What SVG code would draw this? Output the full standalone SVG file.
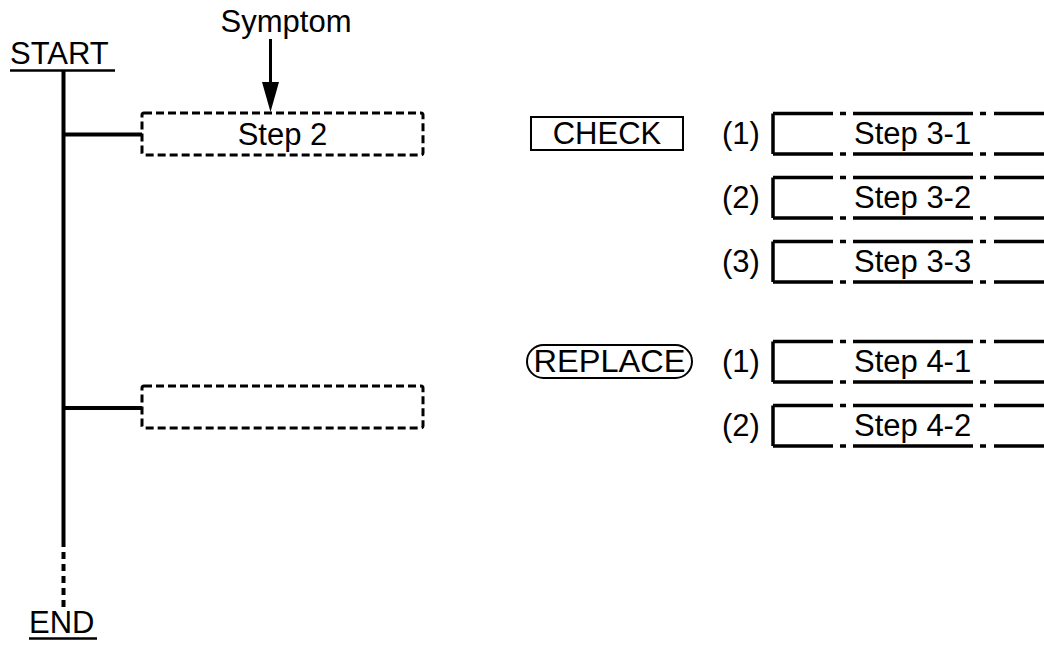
<svg xmlns="http://www.w3.org/2000/svg" width="1044" height="645" viewBox="0 0 1044 645">
<style>
text{font-family:"Liberation Sans",Arial,sans-serif;font-size:31px;fill:#000}
.trunk{stroke:#000;stroke-width:4;fill:none}
.ul{stroke:#000;stroke-width:2.5}
.dbox{fill:none;stroke:#000;stroke-width:3;stroke-dasharray:8 4}
.edge{stroke:#000;stroke-width:3.5;fill:none;stroke-dasharray:60 7 6 7 120 7 6 8 80}
.side{stroke:#000;stroke-width:3.5;fill:none}
.thin{fill:none;stroke:#000;stroke-width:2}
.mid{text-anchor:middle}
</style>
<defs>
<marker id="ah" markerUnits="userSpaceOnUse" markerWidth="31" markerHeight="18" refX="30" refY="8.5" orient="auto" viewBox="0 0 31 17">
<path d="M0,0 L30,8.5 L0,17 Z" fill="#000"/>
</marker>
</defs>
<rect width="1044" height="645" fill="#fff"/>

<g id="start">
<text x="10" y="64">START</text>
<line class="ul" x1="10" y1="70.5" x2="115" y2="70.5"/>
</g>
<g id="end">
<text x="29" y="633">END</text>
<line class="ul" x1="29" y1="638.5" x2="97" y2="638.5"/>
</g>
<g id="symptom">
<text class="mid" x="286" y="32">Symptom</text>
</g>
<g id="step2">
<rect class="dbox" x="142" y="113" width="281" height="42" rx="2"/>
<text class="mid" x="282.5" y="145">Step 2</text>
</g>
<g id="blank-step">
<rect class="dbox" x="142" y="386" width="281" height="42" rx="2"/>
</g>

<g id="check">
<rect class="thin" x="531" y="117" width="152" height="33"/>
<text class="mid" x="607" y="144">CHECK</text>
</g>
<g id="replace">
<rect class="thin" x="527" y="345" width="165" height="33" rx="16.5" ry="16.5" stroke-width="1.5"/>
<text class="mid" x="609.5" y="372" textLength="152" lengthAdjust="spacingAndGlyphs">REPLACE</text>
</g>

<g id="step3-1">
<text x="722" y="144">(1)</text>
<path class="side" d="M773,113.5 V154"/>
<line class="edge" x1="773" y1="113.5" x2="1044" y2="113.5"/>
<line class="edge" x1="773" y1="154" x2="1044" y2="154"/>
<text x="854" y="144">Step 3-1</text>
</g>
<g id="step3-2">
<text x="722" y="208">(2)</text>
<path class="side" d="M773,177.5 V218"/>
<line class="edge" x1="773" y1="177.5" x2="1044" y2="177.5"/>
<line class="edge" x1="773" y1="218" x2="1044" y2="218"/>
<text x="854" y="208">Step 3-2</text>
</g>
<g id="step3-3">
<text x="722" y="272">(3)</text>
<path class="side" d="M773,241.5 V282"/>
<line class="edge" x1="773" y1="241.5" x2="1044" y2="241.5"/>
<line class="edge" x1="773" y1="282" x2="1044" y2="282"/>
<text x="854" y="272">Step 3-3</text>
</g>
<g id="step4-1">
<text x="722" y="372">(1)</text>
<path class="side" d="M773,341.5 V382"/>
<line class="edge" x1="773" y1="341.5" x2="1044" y2="341.5"/>
<line class="edge" x1="773" y1="382" x2="1044" y2="382"/>
<text x="854" y="372">Step 4-1</text>
</g>
<g id="step4-2">
<text x="722" y="436">(2)</text>
<path class="side" d="M773,405.5 V446"/>
<line class="edge" x1="773" y1="405.5" x2="1044" y2="405.5"/>
<line class="edge" x1="773" y1="446" x2="1044" y2="446"/>
<text x="854" y="436">Step 4-2</text>
</g>

<g id="connectors">
<line class="trunk" x1="63.5" y1="71" x2="63.5" y2="540"/>
<line class="trunk" x1="63.5" y1="540" x2="63.5" y2="611" stroke-dasharray="7 5"/>
<line class="trunk" x1="63.5" y1="134.5" x2="142" y2="134.5"/>
<line class="trunk" x1="63.5" y1="408" x2="142" y2="408"/>
<line x1="270.5" y1="39" x2="270.5" y2="100" stroke="#000" stroke-width="3"/>
<line x1="270.5" y1="39" x2="270.5" y2="112" stroke="none" marker-end="url(#ah)"/>
</g>
</svg>
